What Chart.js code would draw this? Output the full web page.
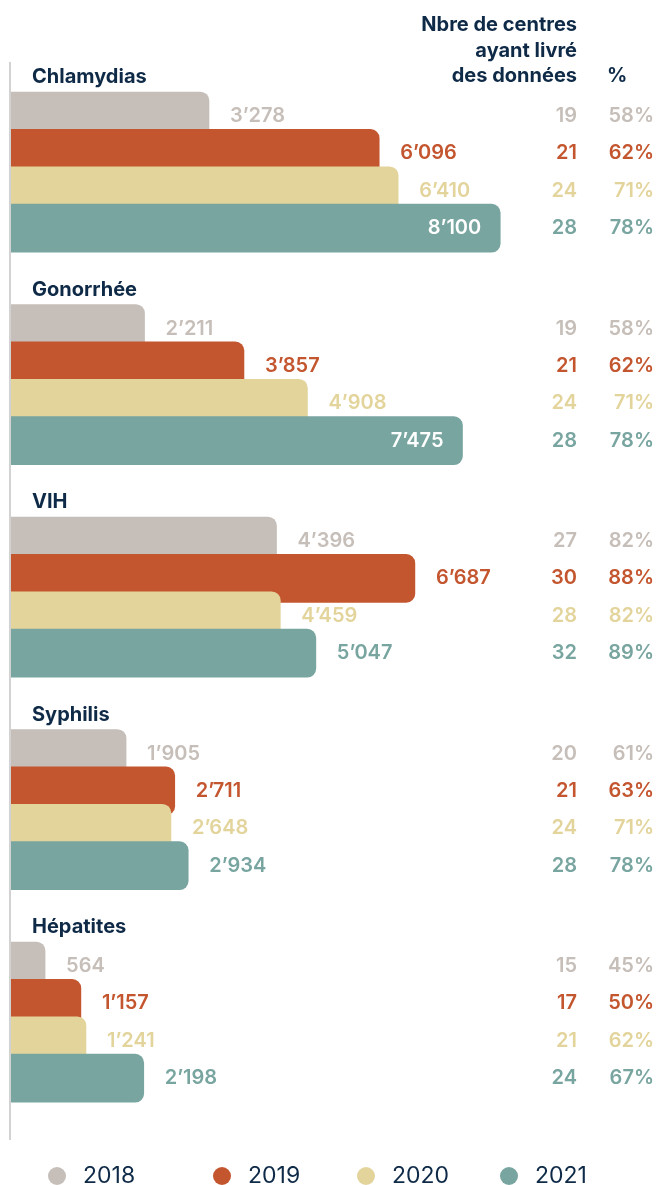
<!DOCTYPE html>
<html>
<head>
<meta charset="utf-8">
<script src="https://cdn.jsdelivr.net/npm/chart.js@4.4.0/dist/chart.umd.min.js"></script>
<style>
html, body { margin: 0; padding: 0; background: #fff; }
</style>
</head>
<body>
<canvas id="graficoCas" width="657" height="1185"></canvas>
<script>
// données
var maladies = ['Chlamydias', 'Gonorrhée', 'VIH', 'Syphilis', 'Hépatites'];
var annees = ['2018', '2019', '2020', '2021'];

var cas2018 = [3278, 2211, 4396, 1905, 564];
var cas2019 = [6096, 3857, 6687, 2711, 1157];
var cas2020 = [6410, 4908, 4459, 2648, 1241];
var cas2021 = [8100, 7475, 5047, 2934, 2198];

var centres2018 = [19, 19, 27, 20, 15];
var centres2019 = [21, 21, 30, 21, 17];
var centres2020 = [24, 24, 28, 24, 21];
var centres2021 = [28, 28, 32, 28, 24];

var pct2018 = [58, 58, 82, 61, 45];
var pct2019 = [62, 62, 88, 63, 50];
var pct2020 = [71, 71, 82, 71, 62];
var pct2021 = [78, 78, 89, 78, 67];

var enteteCentres = ['Nbre de centres', 'ayant livré', 'des données'];
var entetePct = '%';

var cas = [cas2018, cas2019, cas2020, cas2021];
var centres = [centres2018, centres2019, centres2020, centres2021];
var pcts = [pct2018, pct2019, pct2020, pct2021];

var couleurs = ['#c6beb8', '#c4562f', '#e3d49c', '#78a59f'];
var bleuNuit = '#0e2a47';

// mise en page (px)
var premierCentre = 54;
var pasGroupe = 212.5;
var pasBarre = 37.4;
var epaisseur = 48;
var colCentres = 577;
var colPct = 654;
var legendeX = [57, 222, 366, 509];
var legendeY = 1176;

function formater(n) {
	return String(n).replace(/\B(?=(\d{3})+(?!\d))/g, '\u2019');
}

var datasets = annees.map(function(annee, k) {
	return {
		label: annee,
		data: maladies.map(function(m, g) {
			return { x: cas[k][g], y: premierCentre + g * pasGroupe + k * pasBarre };
		}),
		backgroundColor: couleurs[k],
		borderWidth: 0,
		borderRadius: 9,
		borderSkipped: 'start',
		barThickness: epaisseur,
		grouped: false,
		order: annees.length - 1 - k // 2021 dessiné par-dessus
	};
});

var etiquettes = {
	id: 'etiquettes',
	beforeDatasetsDraw: function(chart) {
		var ctx = chart.ctx, area = chart.chartArea;
		ctx.save();
		ctx.strokeStyle = '#d2d2d2';
		ctx.lineWidth = 2;
		ctx.beginPath();
		ctx.moveTo(area.left - 1, area.top);
		ctx.lineTo(area.left - 1, area.bottom);
		ctx.stroke();
		ctx.restore();
	},
	afterDatasetsDraw: function(chart) {
		var ctx = chart.ctx, area = chart.chartArea;
		ctx.save();
		ctx.textBaseline = 'middle';

		// en-tête
		ctx.fillStyle = bleuNuit;
		ctx.font = 'bold 20px Inter';
		ctx.textAlign = 'right';
		enteteCentres.forEach(function(l, i) {
			ctx.fillText(l, colCentres, 25 + i * 25.5);
		});
		ctx.textAlign = 'left';
		ctx.fillText(entetePct, 607, 76);

		chart.data.datasets.forEach(function(ds, k) {
			var meta = chart.getDatasetMeta(k);
			meta.data.forEach(function(barre, g) {
				var yTexte = barre.y;
				if (k === 0) {
					ctx.fillStyle = bleuNuit;
					ctx.font = 'bold 20px Inter';
					ctx.textAlign = 'left';
					ctx.fillText(maladies[g], area.left + 21, barre.y - 39);
				}
				var texte = formater(cas[k][g]);
				ctx.font = '600 20px Inter';
				var larg = ctx.measureText(texte).width;
				if (barre.x + 21 + larg > 525) {
					ctx.fillStyle = '#ffffff';
					ctx.textAlign = 'right';
					ctx.fillText(texte, barre.x - 19, yTexte);
				} else {
					ctx.fillStyle = couleurs[k];
					ctx.textAlign = 'left';
					ctx.fillText(texte, barre.x + 21, yTexte);
				}
				ctx.fillStyle = couleurs[k];
				ctx.textAlign = 'right';
				ctx.fillText(String(centres[k][g]), colCentres, yTexte);
				ctx.fillText(pcts[k][g] + '%', colPct, yTexte);
			});
		});

		// légende
		ctx.font = '23px Inter';
		ctx.textAlign = 'left';
		annees.forEach(function(annee, k) {
			ctx.fillStyle = couleurs[k];
			ctx.beginPath();
			ctx.arc(legendeX[k], legendeY, 9, 0, Math.PI * 2);
			ctx.fill();
			ctx.fillStyle = bleuNuit;
			ctx.fillText(annee, legendeX[k] + 26, legendeY);
		});
		ctx.restore();
	}
};

new Chart(document.getElementById('graficoCas').getContext('2d'), {
	type: 'bar',
	data: { datasets: datasets },
	options: {
		indexAxis: 'y',
		responsive: false,
		animation: false,
		layout: { padding: { left: 11, right: 42, top: 62, bottom: 45 } },
		scales: {
			x: { type: 'linear', min: 0, max: 10000, display: false },
			y: { type: 'linear', min: 0, max: 1078, reverse: true, offset: false, display: false }
		},
		plugins: {
			legend: { display: false },
			tooltip: { enabled: false }
		}
	},
	plugins: [etiquettes]
});
</script>
</body>
</html>
